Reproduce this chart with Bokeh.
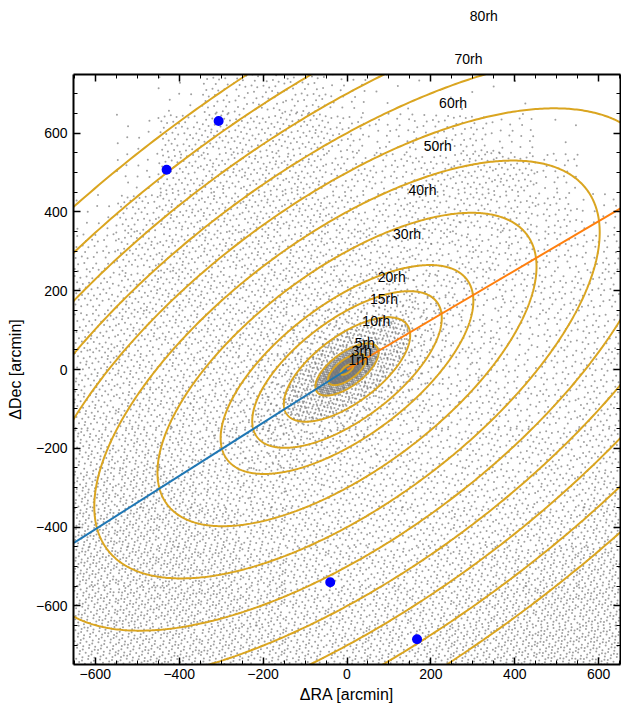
import numpy as np
from bokeh.plotting import figure
from bokeh.models import Range1d, LinearAxis, SingleIntervalTicker, Label
from bokeh.embed import file_html
from bokeh.resources import INLINE

# ---- structural parameters of the dwarf ---------------------------------
RH_ARCMIN = 18.3        # half-light radius along the major axis
AXIS_RATIO = 0.45       # b/a
MAJOR_ANGLE = 39.5      # major axis angle, degrees counter-clockwise from +dRA

# isophotes drawn, in multiples of r_h, and the ones that get a label
ellipse_multiples = [1, 3, 5, 10, 15, 20, 30, 40, 50, 60, 70, 80, 90]
labelled_multiples = [1, 3, 5, 10, 15, 20, 30, 40, 50, 60, 70, 80]

# projected orbit: trailing (blue) and leading (orange) directions, arcmin
trail_ra = [0, -651]
trail_dec = [0, -440]
lead_ra = [0, 653]
lead_dec = [0, 410]

# highlighted objects, arcmin
obj_ra = [-430, -306, -40, 167]
obj_dec = [507, 631, -540, -685]

# field-star counts in 100' x 100' cells (rows from north to south)
grid_ra = [-600, -500, -400, -300, -200, -100, 0, 100, 200, 300, 400, 500, 600]
grid_dec = [700, 600, 500, 400, 300, 200, 100, 0, -100, -200, -300, -400, -500, -600, -700]
field_counts = [
    [0, 0, 8, 35, 40, 40, 20, 5, 2, 4, 2, 0, 0],
    [0, 8, 45, 50, 50, 50, 35, 25, 30, 35, 20, 3, 0],
    [0, 15, 50, 55, 55, 55, 40, 35, 45, 50, 50, 25, 0],
    [10, 45, 55, 55, 55, 55, 45, 40, 45, 45, 40, 35, 15],
    [35, 50, 55, 55, 55, 55, 50, 45, 40, 40, 35, 35, 30],
    [45, 55, 55, 55, 55, 55, 55, 45, 35, 35, 35, 35, 35],
    [50, 55, 55, 55, 55, 55, 55, 45, 35, 30, 30, 35, 35],
    [55, 60, 55, 55, 55, 55, 55, 45, 35, 30, 30, 35, 40],
    [60, 60, 60, 55, 55, 55, 50, 45, 40, 35, 35, 40, 45],
    [70, 70, 65, 60, 55, 55, 50, 45, 40, 40, 40, 45, 50],
    [85, 85, 80, 65, 60, 55, 50, 45, 45, 45, 45, 50, 60],
    [95, 95, 90, 80, 65, 60, 55, 50, 50, 55, 55, 60, 70],
    [100, 100, 100, 90, 75, 65, 60, 60, 60, 65, 70, 80, 90],
    [95, 100, 100, 95, 80, 70, 70, 70, 70, 75, 85, 95, 100],
    [90, 95, 95, 90, 80, 75, 75, 75, 80, 85, 95, 105, 105],
]
CELL = 100.0

# member counts in elliptical annuli (edges in units of r_h)
member_r_edges = [0, 1, 3, 5, 10, 15, 20, 30]
member_counts = [150, 700, 500, 450, 170, 90, 60]

# ---- helpers ------------------------------------------------------------
_G = 1.32471795724474602596
_A1, _A2 = 1.0 / _G, 1.0 / _G ** 2
_seq_pos = [0]


def lowdisc(n):
    """Next n points of the R2 low-discrepancy sequence in the unit square."""
    k = np.arange(_seq_pos[0], _seq_pos[0] + n)
    _seq_pos[0] += n
    return (0.5 + _A1 * k) % 1.0, (0.5 + _A2 * k) % 1.0


cos_t = np.cos(np.radians(MAJOR_ANGLE))
sin_t = np.sin(np.radians(MAJOR_ANGLE))


def to_sky(u, v):
    """Rotate major/minor-axis coordinates onto (dRA, dDec)."""
    return u * cos_t - v * sin_t, u * sin_t + v * cos_t


def fill_annulus(r0, r1, n):
    """n evenly spread points between elliptical radii r0 and r1 (in r_h)."""
    got_u, got_v, have = [], [], 0
    while have < n:
        u, v = lowdisc(4 * n)
        u = (2 * u - 1) * r1
        v = (2 * v - 1) * r1
        rr = np.hypot(u, v)
        keep = (rr >= r0) & (rr < r1)
        got_u.append(u[keep])
        got_v.append(v[keep])
        have += keep.sum()
    u = np.concatenate(got_u)[:n] * RH_ARCMIN
    v = np.concatenate(got_v)[:n] * RH_ARCMIN * AXIS_RATIO
    return to_sky(u, v)


# ---- star positions -----------------------------------------------------
xs, ys = [], []
for j, dec0 in enumerate(grid_dec):
    for i, ra0 in enumerate(grid_ra):
        n = field_counts[j][i]
        if n == 0:
            continue
        u, v = lowdisc(n)
        xs.append(ra0 - CELL / 2 + CELL * u)
        ys.append(dec0 - CELL / 2 + CELL * v)

for r0, r1, n in zip(member_r_edges[:-1], member_r_edges[1:], member_counts):
    sx, sy = fill_annulus(r0, r1, n)
    xs.append(sx)
    ys.append(sy)

star_x = np.concatenate(xs)
star_y = np.concatenate(ys)

# ---- isophotes ----------------------------------------------------------
t = np.linspace(0, 2 * np.pi, 721)
ell_x, ell_y = [], []
for m in ellipse_multiples:
    a = m * RH_ARCMIN
    ex, ey = to_sky(a * np.cos(t), AXIS_RATIO * a * np.sin(t))
    ell_x.append(ex)
    ell_y.append(ey)

# ---- figure -------------------------------------------------------------
FONT = "Liberation Sans"
X_RANGE = (-652, 652)
Y_RANGE = (-749, 749)
p = figure(
    width=621, height=705,
    x_range=Range1d(*X_RANGE), y_range=Range1d(*Y_RANGE),
    output_backend="svg", toolbar_location=None,
    min_border_left=73, min_border_right=1, min_border_top=74, min_border_bottom=40,
    x_axis_label="ΔRA [arcmin]", y_axis_label="ΔDec [arcmin]",
)
p.background_fill_color = "white"
p.border_fill_color = "white"
p.outline_line_color = None
p.xgrid.visible = False
p.ygrid.visible = False

p.scatter(star_x, star_y, size=2, color="#777777", alpha=0.7, line_color=None)

p.multi_line(ell_x, ell_y, line_color="#DAA520", line_width=2)

p.line(trail_ra, trail_dec, line_color="#1f77b4", line_width=2)
p.line(lead_ra, lead_dec, line_color="#ff7f0e", line_width=2)

p.scatter(obj_ra, obj_dec, size=10, color="blue", line_color=None)

# ---- axes, ticks inside on all four sides -------------------------------
ticks = list(range(-800, 801, 200))
overrides = {v: (f"\u2212{abs(v)}" if v < 0 else str(v)) for v in ticks}


def style_axis(ax, show_labels):
    ax.ticker = SingleIntervalTicker(interval=200, num_minor_ticks=4)
    ax.axis_line_width = 2
    ax.axis_line_color = "black"
    ax.major_tick_in = 7
    ax.major_tick_out = 0
    ax.minor_tick_in = 4
    ax.minor_tick_out = 0
    ax.major_tick_line_width = 1.5
    ax.minor_tick_line_width = 1
    ax.major_tick_line_color = "black"
    ax.minor_tick_line_color = "black"
    if show_labels:
        ax.major_label_overrides = overrides
        ax.major_label_text_font = FONT
        ax.major_label_text_font_size = "14px"
        ax.major_label_text_color = "black"
        ax.axis_label_text_font = FONT
        ax.axis_label_text_font_size = "16px"
        ax.axis_label_text_font_style = "normal"
        ax.axis_label_text_color = "black"
    else:
        ax.major_label_text_color = None
        ax.major_label_standoff = 0


for ax in p.xaxis + p.yaxis:
    style_axis(ax, True)
p.xaxis.major_label_standoff = 4
p.xaxis.axis_label_standoff = 4
p.yaxis.major_label_standoff = 6
p.yaxis.axis_label_standoff = 9

top_ax = LinearAxis()
right_ax = LinearAxis()
style_axis(top_ax, False)
style_axis(right_ax, False)
p.add_layout(top_ax, "above")
p.add_layout(right_ax, "right")

# labels ride along a ray to the upper right, spaced per r_h;
# those beyond the top of the frame go in the upper panel so they are not clipped
LABEL_STEP = (3.66, 11.07)
for m in labelled_multiples:
    lx, ly = m * LABEL_STEP[0], m * LABEL_STEP[1]
    lab = Label(
        x=lx, y=ly, text=f"{m}rh", y_offset=5,
        text_font=FONT, text_font_size="14px", text_color="black",
        text_align="left", text_baseline="alphabetic",
    )
    p.add_layout(lab, "above" if ly > Y_RANGE[1] else "center")

open("out.html", "w").write(file_html(p, INLINE))
